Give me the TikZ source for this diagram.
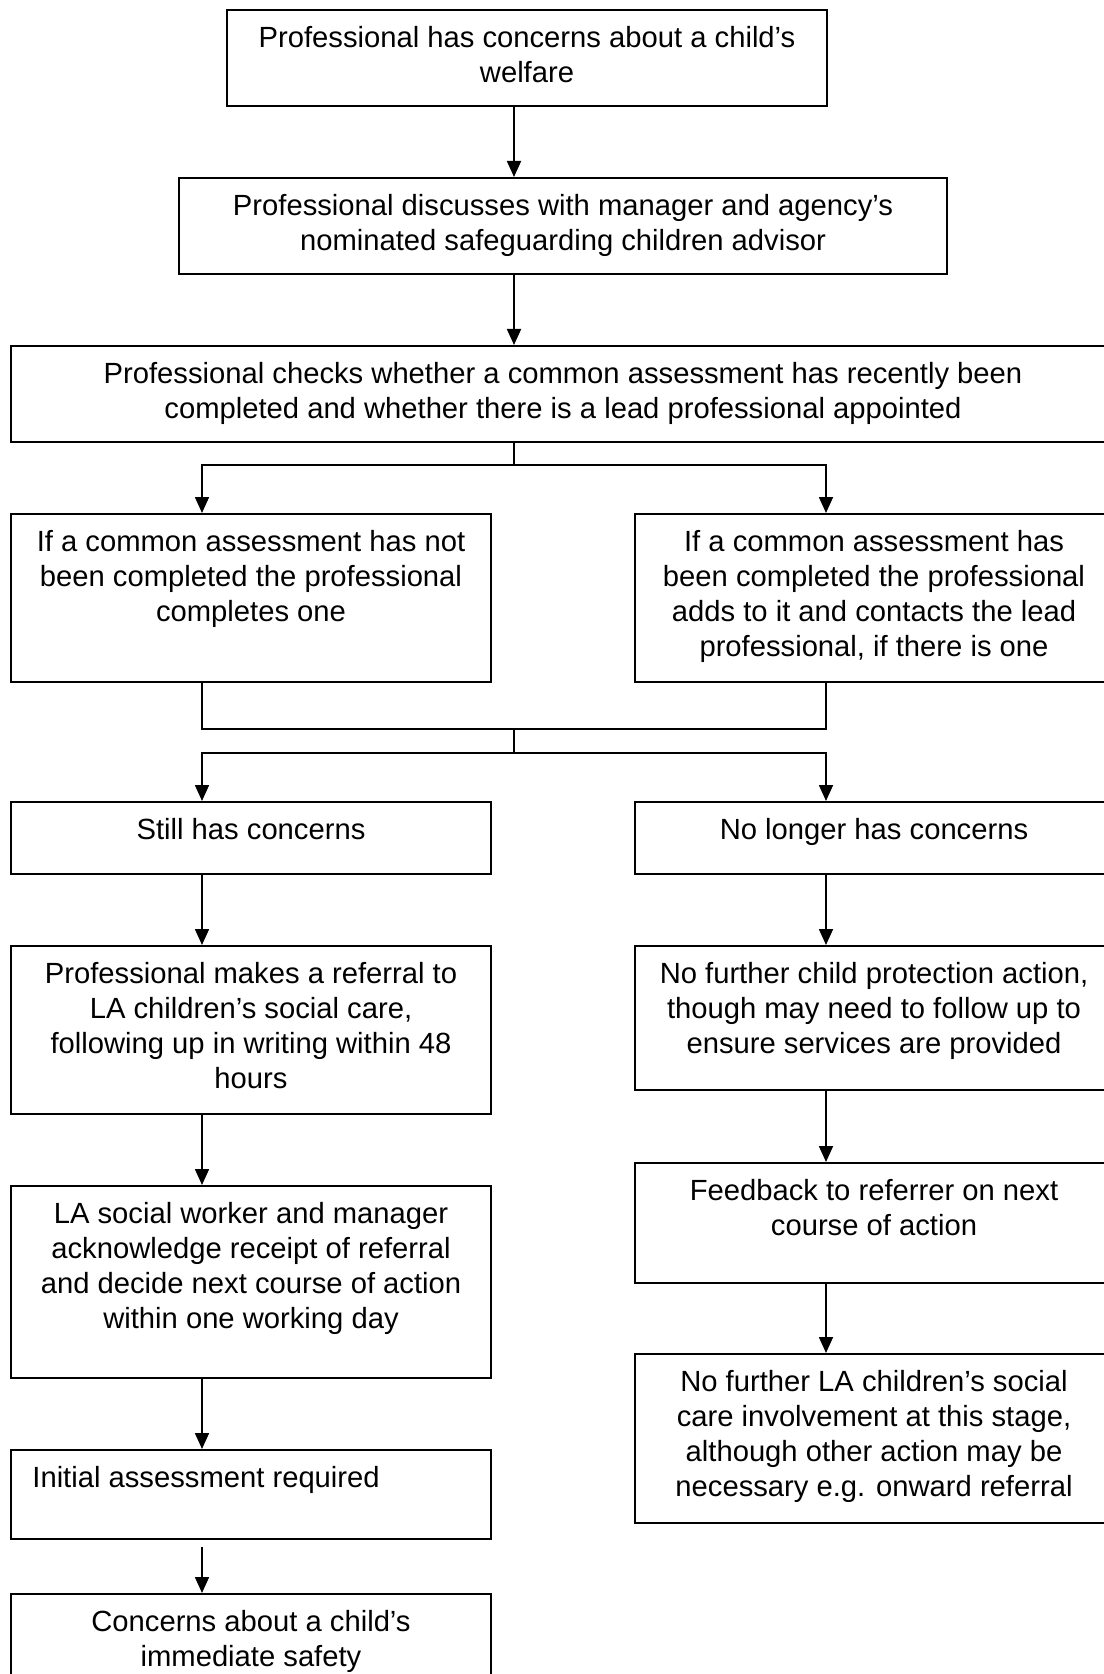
\documentclass[tikz,border=0pt]{standalone}
\usepackage{fontspec}
\setmainfont{Liberation Sans}
\usepackage{tikz}
\usetikzlibrary{arrows.meta}

\begin{document}
\begin{tikzpicture}[x=0.5pt, y=-0.5pt,
        box/.style = {draw, line width=1pt, inner sep=0pt, anchor=north west},
        txt/.style = {align=center, inner sep=0pt, anchor=north,
                      font=\fontsize{14.6}{17.5}\selectfont},
        arr/.style = {line width=0.9pt, -{Triangle[length=8pt, width=7pt]}},
        link/.style = {line width=0.9pt}]
        % Page frame
        \useasboundingbox (0,0) rectangle (1103,1674);

        % Columns of the connectors
        \coordinate (spine) at (514,0);
        \coordinate (lx) at (202,0);
        \coordinate (rx) at (826,0);

        % Top of the chart
        \node[box, minimum width=300pt, minimum height=48pt] (concern) at (226,9) {};
        \node[txt] (concern-t) at ([yshift=-8.5pt]concern.north) {Professional has concerns about a child’s\\welfare};

        \node[box, minimum width=384pt, minimum height=48pt] (discuss) at (178,177) {};
        \node[txt] (discuss-t) at ([yshift=-8.5pt]discuss.north) {Professional discusses with manager and agency’s\\nominated safeguarding children advisor};

        \node[box, minimum width=552pt, minimum height=48pt] (check) at (10,345) {};
        \node[txt] (check-t) at ([yshift=-8.5pt]check.north) {Professional checks whether a common assessment has recently been\\completed and whether there is a lead professional appointed};

        \draw[arr] (concern.south -| spine) -- (discuss.north -| spine);
        \draw[arr] (discuss.south -| spine) -- (check.north -| spine);

        % Common assessment done or not
        \node[box, minimum width=240pt, minimum height=84pt] (notdone) at (10,513) {};
        \node[txt] (notdone-t) at ([yshift=-8.5pt]notdone.north) {If a common assessment has not\\been completed the professional\\completes one};

        \node[box, minimum width=239pt, minimum height=84pt] (done) at (634,513) {};
        \node[txt] (done-t) at ([yshift=-8.5pt]done.north) {If a common assessment has\\been completed the professional\\adds to it and contacts the lead\\professional, if there is one};

        \coordinate (split1) at (514,465);
        \draw[link] (check.south -| spine) -- (split1);
        \draw[arr] (split1) -| (notdone.north -| lx);
        \draw[arr] (split1) -| (done.north -| rx);

        % Join and split again
        \coordinate (join1) at (514,729);
        \coordinate (split2) at (514,753);
        \draw[link] (notdone.south -| lx) |- (join1) -| (done.south -| rx);
        \draw[link] (join1) -- (split2);

        \node[box, minimum width=240pt, minimum height=36pt] (still) at (10,801) {};
        \node[txt] (still-t) at ([yshift=-8.5pt]still.north) {Still has concerns};

        \node[box, minimum width=239pt, minimum height=36pt] (nolonger) at (634,801) {};
        \node[txt] (nolonger-t) at ([yshift=-8.5pt]nolonger.north) {No longer has concerns};

        \draw[arr] (split2) -| (still.north -| lx);
        \draw[arr] (split2) -| (nolonger.north -| rx);

        % Left column
        \node[box, minimum width=240pt, minimum height=84pt] (referral) at (10,945) {};
        \node[txt] (referral-t) at ([yshift=-8.5pt]referral.north) {Professional makes a referral to\\LA children’s social care,\\following up in writing within 48\\hours};

        \node[box, minimum width=240pt, minimum height=96pt] (lasw) at (10,1185) {};
        \node[txt] (lasw-t) at ([yshift=-8.5pt]lasw.north) {LA social worker and manager\\acknowledge receipt of referral\\and decide next course of action\\within one working day};

        \node[box, minimum width=240pt, minimum height=44.5pt] (initial) at (10,1449) {};
        \node[txt, anchor=north west] (initial-t) at ([xshift=11pt, yshift=-8.5pt]initial.north west) {Initial assessment required};

        \node[box, minimum width=240pt, minimum height=50pt] (safety) at (10,1593) {};
        \node[txt] (safety-t) at ([yshift=-8.5pt]safety.north) {Concerns about a child’s\\immediate safety};

        \draw[arr] (still.south -| lx) -- (referral.north -| lx);
        \draw[arr] (referral.south -| lx) -- (lasw.north -| lx);
        \draw[arr] (lasw.south -| lx) -- (initial.north -| lx);
        \draw[arr, shorten <=3.5pt] (initial.south -| lx) -- (safety.north -| lx);

        % Right column
        \node[box, minimum width=239pt, minimum height=72pt] (nfaction) at (634,945) {};
        \node[txt] (nfaction-t) at ([yshift=-8.5pt]nfaction.north) {No further child protection action,\\though may need to follow up to\\ensure services are provided};

        \node[box, minimum width=239pt, minimum height=60pt] (feedback) at (634,1162) {};
        \node[txt] (feedback-t) at ([yshift=-8.5pt]feedback.north) {Feedback to referrer on next\\course of action};

        \node[box, minimum width=239pt, minimum height=84.5pt] (nfla) at (634,1353) {};
        \node[txt] (nfla-t) at ([yshift=-8.5pt]nfla.north) {No further LA children’s social\\care involvement at this stage,\\although other action may be\\necessary e.g. onward referral};

        \draw[arr] (nolonger.south -| rx) -- (nfaction.north -| rx);
        \draw[arr] (nfaction.south -| rx) -- (feedback.north -| rx);
        \draw[arr] (feedback.south -| rx) -- (nfla.north -| rx);
\end{tikzpicture}
\end{document}
